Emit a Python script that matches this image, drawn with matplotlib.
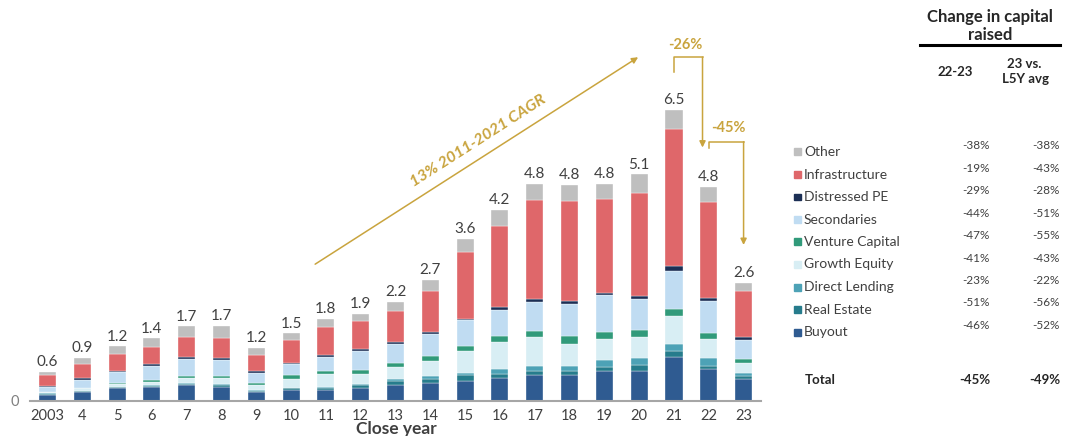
import matplotlib.pyplot as plt
from matplotlib.patches import Rectangle

plt.rcParams["font.family"] = ["Lato", "DejaVu Sans"]

years = ["2003", "4", "5", "6", "7", "8", "9", "10", "11", "12", "13",
         "14", "15", "16", "17", "18", "19", "20", "21", "22", "23"]
totals = ["0.6", "0.9", "1.2", "1.4", "1.7", "1.7", "1.2", "1.5", "1.8", "1.9", "2.2",
          "2.7", "3.6", "4.2", "4.8", "4.8", "4.8", "5.1", "6.5", "4.8", "2.6"]

buyout = [0.12, 0.20, 0.29, 0.31, 0.34, 0.31, 0.20, 0.23, 0.24, 0.27, 0.34,
          0.39, 0.43, 0.50, 0.57, 0.57, 0.67, 0.66, 0.97, 0.71, 0.49]
real_estate = [0.03, 0.01, 0.01, 0.02, 0.04, 0.04, 0.02, 0.04, 0.05, 0.07, 0.10,
               0.09, 0.13, 0.10, 0.10, 0.09, 0.09, 0.13, 0.13, 0.07, 0.05]
direct_lending = [0.01, 0.01, 0.01, 0.01, 0.01, 0.02, 0.02, 0.02, 0.02, 0.04, 0.04,
                  0.06, 0.05, 0.10, 0.11, 0.12, 0.15, 0.16, 0.17, 0.16, 0.07]
growth_equity = [0.02, 0.05, 0.05, 0.08, 0.12, 0.13, 0.11, 0.20, 0.28, 0.22, 0.26,
                 0.34, 0.49, 0.60, 0.63, 0.48, 0.47, 0.46, 0.61, 0.43, 0.24]
venture_capital = [0.01, 0.015, 0.04, 0.04, 0.04, 0.05, 0.04, 0.07, 0.07, 0.09, 0.10,
                   0.12, 0.13, 0.15, 0.14, 0.19, 0.16, 0.17, 0.17, 0.13, 0.08]
secondaries = [0.12, 0.18, 0.24, 0.31, 0.38, 0.36, 0.23, 0.25, 0.32, 0.42, 0.43,
               0.48, 0.56, 0.58, 0.66, 0.71, 0.81, 0.69, 0.85, 0.72, 0.43]
distressed_pe = [0.02, 0.04, 0.03, 0.04, 0.04, 0.03, 0.03, 0.04, 0.04, 0.04, 0.05,
                 0.06, 0.03, 0.07, 0.07, 0.07, 0.06, 0.07, 0.10, 0.08, 0.05]
infrastructure = [0.24, 0.32, 0.38, 0.39, 0.45, 0.46, 0.36, 0.51, 0.62, 0.62, 0.68,
                  0.91, 1.51, 1.81, 2.21, 2.23, 2.09, 2.31, 3.07, 2.15, 1.05]
other = [0.07, 0.12, 0.16, 0.19, 0.24, 0.27, 0.17, 0.14, 0.19, 0.17, 0.20,
         0.25, 0.29, 0.35, 0.35, 0.36, 0.35, 0.41, 0.43, 0.33, 0.18]

# stacked from bottom to top
series = [
    ("Buyout", buyout, "#2F5B91"),
    ("Real Estate", real_estate, "#267C8C"),
    ("Direct Lending", direct_lending, "#4DA2B6"),
    ("Growth Equity", growth_equity, "#D8EEF4"),
    ("Venture Capital", venture_capital, "#319A7A"),
    ("Secondaries", secondaries, "#C0DCF2"),
    ("Distressed PE", distressed_pe, "#1C2F55"),
    ("Infrastructure", infrastructure, "#DF676A"),
    ("Other", other, "#BFBFBF"),
]

chg_22_23 = ["-38%", "-19%", "-29%", "-44%", "-47%", "-41%", "-23%", "-51%", "-46%"]
chg_l5y = ["-38%", "-43%", "-28%", "-51%", "-55%", "-43%", "-22%", "-56%", "-52%"]
total_chg = ["-45%", "-49%"]

gold = "#C9A43E"

fig = plt.figure(figsize=(10.67, 4.36), dpi=100)
ax = fig.add_axes([0.0282, 0.0814, 0.685, 0.9186])

x = list(range(len(years)))
bottom = [0.0] * len(years)
for name, vals, color in series:
    ax.bar(x, vals, bottom=bottom, width=0.49, color=color, label=name,
           edgecolor="white", linewidth=0.25)
    bottom = [b + v for b, v in zip(bottom, vals)]

for xi, top, lab in zip(x, bottom, totals):
    ax.annotate(lab, (xi, top), xytext=(0, 2), textcoords="offset points",
                ha="center", va="bottom", fontsize=11, color="#404040")

ax.set_xlim(-0.5, 20.5)
ax.set_ylim(0, 8.96)
for s in ["top", "right", "left"]:
    ax.spines[s].set_visible(False)
ax.spines["bottom"].set_color("#A6A6A6")
ax.spines["bottom"].set_linewidth(1.5)
ax.set_xticks(x, years)
ax.set_yticks([0], ["0"])
ax.tick_params(axis="x", length=0, pad=6, labelsize=10.5, labelcolor="#404040")
ax.tick_params(axis="y", length=0, pad=8, labelsize=10.5, labelcolor="#808080")
fig.text(396 / 1067, 1 - 429 / 436, "Close year", ha="center", va="center",
         fontsize=12.5, fontweight="bold", color="#404040")

# CAGR arrow
ax.annotate("", xy=(16.97, 7.68), xytext=(7.69, 3.05),
            arrowprops=dict(arrowstyle="-|>", color=gold, lw=1.1,
                            mutation_scale=9, shrinkA=0, shrinkB=0),
            annotation_clip=False)
ax.text(12.37, 5.80, "13% 2011-2021 CAGR", rotation=32.7, rotation_mode="anchor",
        ha="center", va="center", fontsize=11.5, fontweight="bold",
        fontstyle="italic", color=gold)

# -26% bracket
ax.plot([18, 18, 18.82], [7.36, 7.68, 7.68], color=gold, lw=1.1, clip_on=False)
ax.annotate("", xy=(18.82, 5.66), xytext=(18.82, 7.68),
            arrowprops=dict(arrowstyle="-|>", color=gold, lw=1.1,
                            mutation_scale=9, shrinkA=0, shrinkB=0),
            annotation_clip=False)
ax.text(18.32, 7.95, "-26%", ha="center", va="center", fontsize=10.5,
        fontweight="bold", color=gold)

# -45% bracket
ax.plot([19, 19, 20], [5.65, 5.79, 5.79], color=gold, lw=1.1, clip_on=False)
ax.annotate("", xy=(20, 3.48), xytext=(20, 5.79),
            arrowprops=dict(arrowstyle="-|>", color=gold, lw=1.1,
                            mutation_scale=9, shrinkA=0, shrinkB=0),
            annotation_clip=False)
ax.text(19.55, 6.09, "-45%", ha="center", va="center", fontsize=10.5,
        fontweight="bold", color=gold)

# right-hand table
def fx(px):
    return px / 1067


def fy(py):
    return 1 - py / 436


fig.text(fx(990), fy(17), "Change in capital", ha="center", va="center",
         fontsize=12, fontweight="bold", color="#262626")
fig.text(fx(990), fy(35), "raised", ha="center", va="center",
         fontsize=12, fontweight="bold", color="#262626")
fig.add_artist(plt.Line2D([fx(920), fx(1060)], [fy(45), fy(45)],
                          color="black", lw=2.2))
fig.text(fx(955), fy(72), "22-23", ha="center", va="center",
         fontsize=9.5, fontweight="bold", color="#262626")
fig.text(fx(1024), fy(64), "23 vs.", ha="center", va="center",
         fontsize=9.5, fontweight="bold", color="#262626")
fig.text(fx(1026), fy(79), "L5Y avg", ha="center", va="center",
         fontsize=9.5, fontweight="bold", color="#262626")

for i, (name, vals, color) in enumerate(series[::-1]):
    y = 152 + i * 22.5
    fig.add_artist(Rectangle((fx(794), fy(y + 3.5)), 7 / 1067, 7 / 436,
                             color=color, transform=fig.transFigure))
    fig.text(fx(804), fy(y), name, ha="left", va="center",
             fontsize=10, color="#404040")
    fig.text(fx(990), fy(y - 6.5), chg_22_23[i], ha="right", va="center",
             fontsize=8.5, color="#404040")
    fig.text(fx(1060), fy(y - 6.5), chg_l5y[i], ha="right", va="center",
             fontsize=8.5, color="#404040")

fig.text(fx(805), fy(380), "Total", ha="left", va="center",
         fontsize=9.5, fontweight="bold", color="#262626")
fig.text(fx(990), fy(380), total_chg[0], ha="right", va="center",
         fontsize=9.5, fontweight="bold", color="#262626")
fig.text(fx(1060), fy(380), total_chg[1], ha="right", va="center",
         fontsize=9.5, fontweight="bold", color="#262626")

fig.savefig("out.png", dpi=100)
